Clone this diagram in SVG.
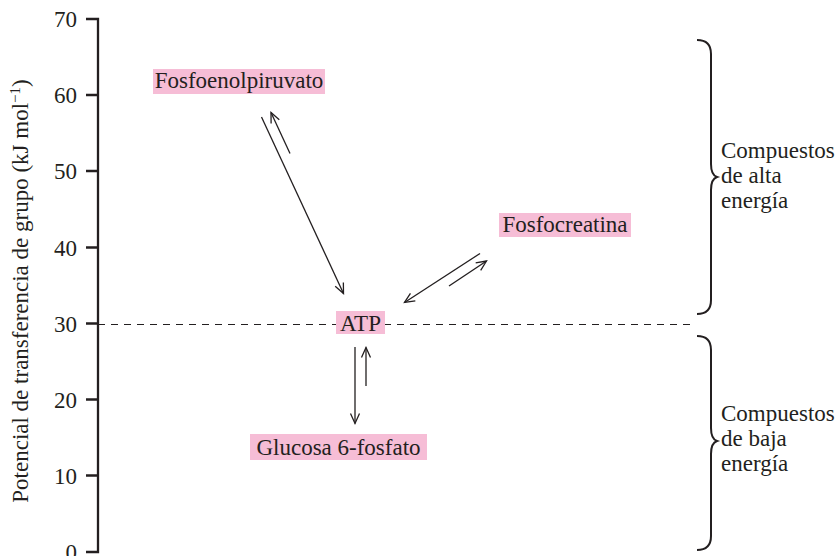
<svg xmlns="http://www.w3.org/2000/svg" width="840" height="556" viewBox="0 0 840 556">
<defs>
<style>
text{font-family:"Liberation Serif","Times New Roman",serif;font-size:23px;fill:#231f20}
.box{fill:#f6bdd6}
.ax{stroke:#231f20;stroke-width:2.3;fill:none}
.tk{text-anchor:end}
.conn line{stroke:#231f20;stroke-width:1.3;marker-end:url(#ah)}
.brace{stroke:#231f20;stroke-width:2;fill:none}
</style>
<marker id="ah" markerUnits="userSpaceOnUse" markerWidth="14" markerHeight="14" viewBox="-12 -7 14 14" refX="0" refY="0" orient="auto">
<path d="M-10,-4.5 L0,0 L-10,4.5" fill="none" stroke="#231f20" stroke-width="1.3"/>
</marker>
</defs>
<rect width="840" height="556" fill="#fff"/>
<g id="axis">
<path class="ax" d="M86,19 H98 V552 H86"/>
<path class="ax" d="M86,95 H98 M86,171 H98 M86,247.5 H98 M86,323.5 H98 M86,399.5 H98 M86,475.5 H98"/>
<text class="tk" x="77" y="27">70</text>
<text class="tk" x="77" y="103">60</text>
<text class="tk" x="77" y="179">50</text>
<text class="tk" x="77" y="255.5">40</text>
<text class="tk" x="77" y="331.5">30</text>
<text class="tk" x="77" y="407.5">20</text>
<text class="tk" x="77" y="483.5">10</text>
<text class="tk" x="77" y="560">0</text>
<text transform="translate(28,291) rotate(-90)" text-anchor="middle">Potencial de transferencia de grupo (kJ mol<tspan font-size="15" dy="-8">−1</tspan><tspan dy="8">)</tspan></text>
</g>
<line id="limit" x1="98" y1="324.5" x2="690" y2="324.5" stroke="#231f20" stroke-width="1.2" stroke-dasharray="7,6"/>
<g id="PEP">
<rect class="box" x="153" y="69" width="172" height="25"/>
<text x="239" y="88" text-anchor="middle">Fosfoenolpiruvato</text>
</g>
<g id="Fosfocreatina">
<rect class="box" x="499" y="213" width="132" height="24"/>
<text x="565" y="232" text-anchor="middle">Fosfocreatina</text>
</g>
<g id="ATP">
<rect class="box" x="336" y="311" width="49" height="23"/>
<text x="360.5" y="331" text-anchor="middle">ATP</text>
</g>
<g id="Glucosa">
<rect class="box" x="250" y="434" width="177" height="26"/>
<text x="338.5" y="455" text-anchor="middle">Glucosa 6-fosfato</text>
</g>
<g id="connectors" class="conn">
<line x1="261.5" y1="117" x2="343.5" y2="293.5"/>
<line x1="290" y1="153.5" x2="271" y2="112.5"/>
<line x1="480" y1="253.5" x2="404.5" y2="302.5"/>
<line x1="449" y1="286" x2="486.5" y2="261"/>
<line x1="355" y1="347" x2="355" y2="423.5"/>
<line x1="366" y1="386" x2="366" y2="347.5"/>
</g>
<g id="alta">
<path class="brace" d="M697,40 Q711,40 711,54 L711,164 Q711,175 717,177 Q711,179 711,190 L711,300 Q711,314 697,314"/>
<text x="721" y="158">Compuestos</text>
<text x="721" y="183">de alta</text>
<text x="721" y="208">energía</text>
</g>
<g id="baja">
<path class="brace" d="M697,336 Q711,336 711,350 L711,428 Q711,439 717,441 Q711,443 711,454 L711,536 Q711,550 697,550"/>
<text x="721" y="421">Compuestos</text>
<text x="721" y="446">de baja</text>
<text x="721" y="471">energía</text>
</g>
</svg>
